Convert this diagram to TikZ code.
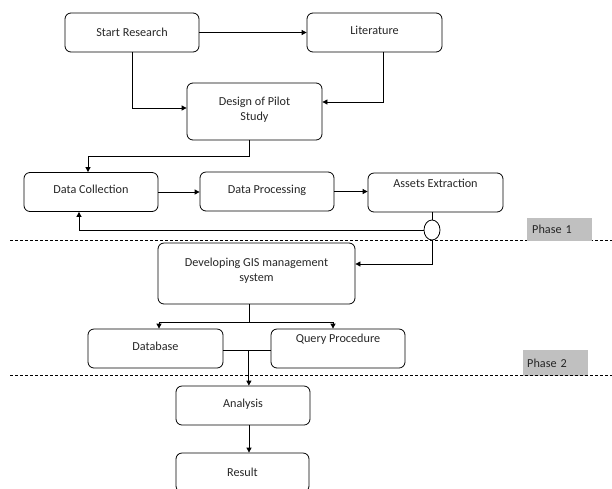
\documentclass[tikz,border=0pt]{standalone}
\usepackage{fontspec}
\setmainfont{Carlito}
\usetikzlibrary{arrows.meta,calc,shapes.geometric}
\definecolor{boxgray}{HTML}{C0C0C0}
\definecolor{txt}{HTML}{262626}
\newcommand\boxfont{\fontsize{12.2}{15}\selectfont}
\begin{document}
\begin{tikzpicture}[x=1pt,y=-1pt,
  box/.style={draw, rounded corners=6pt, minimum width=134pt, minimum height=39pt, inner sep=0pt, align=center, font=\boxfont, text=txt, line width=0.8pt},
  up/.style={text depth=5pt},
  lbl/.style={font=\boxfont, text=txt},
  arr/.style={-{Triangle[length=5pt,width=5pt]}, line width=0.8pt},
  ln/.style={line width=0.8pt},
  dline/.style={line width=0.8pt, dash pattern=on 3pt off 2pt},
  phase/.style={fill=boxgray, text=txt, font=\boxfont, anchor=north west, inner ysep=0pt, align=left}
]
\useasboundingbox (0,0) rectangle (612,488);
\clip (0,0) rectangle (612,488);

% boxes
\node[box] (start) at (132,32.5) {Start Research};
\node[box, minimum width=135pt, up] (lit) at (374.5,32.5) {Literature};
\node[box, minimum width=135pt, minimum height=57pt, up] (design) at (254.5,111.5) {Design of Pilot\\Study};
\node[box, up] (dc) at (91,192) {Data Collection};
\node[box, up] (dp) at (267,191.5) {Data Processing};
\node[box, minimum width=135pt, label={[lbl,yshift=9.5pt]center:Assets Extraction}] (ae) at (435.5,192.5) {};
\node[box, minimum width=197pt, minimum height=61pt, text depth=7pt] (gis) at (256.5,273.5) {Developing GIS management\\system};
\node[box, minimum width=135pt, up] (db) at (155.5,348.5) {Database};
\node[box, label={[lbl,yshift=9.5pt]center:Query Procedure}] (qp) at (338,348.5) {};
\node[box, up] (an) at (243,405.5) {Analysis};
\node[box, minimum width=133pt] (res) at (242.5,472.5) {Result};

% phase separators
\coordinate (d1a) at (10,240);
\coordinate (d1b) at (612,240);
\coordinate (d2a) at (10,375);
\coordinate (d2b) at (612,375);
\draw[dline] (d1a) -- (d1b);
\node[phase, minimum height=23pt, text width=55pt, inner xsep=5pt] (ph1) at (527,218) {Phase 1};
\node[phase, minimum height=26pt, text width=57pt, inner xsep=4pt] (ph2) at (523,350) {Phase 2};
\draw[dline] (d2a) -- (d2b);

% junction circle
\node[draw, ellipse, minimum width=16pt, minimum height=20pt, inner sep=0pt, fill=white, line width=0.8pt] (circ) at (432,230) {};

% connectors
\draw[arr] (start.east) -- (lit.west);
\draw[arr] (start.south) |- ([yshift=3.5pt]design.west);
\draw[arr] ([xshift=8.5pt]lit.south) |- ([yshift=9.5pt]design.east);
\draw[arr] ([xshift=-5.5pt]design.south) -- ++(0,16) -| ([xshift=-3pt]dc.north);
\draw[arr] (dc.east) -- (dc.east -| dp.west);
\draw[arr] (dp.east) -- (dp.east -| ae.west);
\draw[ln] ([xshift=-3.5pt]ae.south) -- (circ.north);
\draw[arr] (circ.west) -| ([xshift=-12pt]dc.south);
\draw[arr] (circ.south) |- ([yshift=9.5pt]gis.east);
\draw[ln] ([xshift=-7.5pt]gis.south) -- ++(0,18) coordinate (split);
\draw[arr] (split) -| ([xshift=3.5pt]db.north);
\draw[arr] (split) -| ([xshift=-5pt]qp.north);
\draw[ln] ([yshift=-1.5pt]db.east) -- coordinate[pos=0.54] (mid) ([yshift=-1.5pt]qp.west);
\draw[arr] (mid) -- (mid |- an.north);
\draw[arr] ([xshift=6pt]an.south) -- ([xshift=6.5pt]res.north);
\end{tikzpicture}
\end{document}
